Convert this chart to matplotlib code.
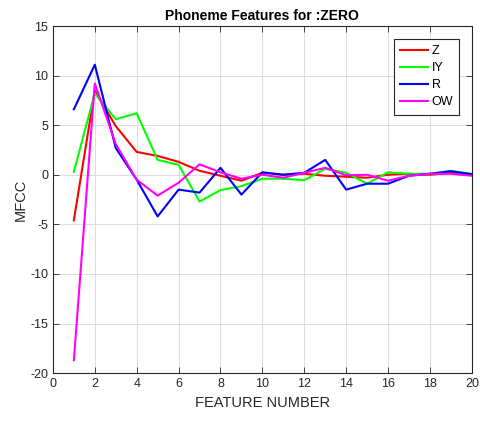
import numpy as np
import matplotlib
matplotlib.use("Agg")
import matplotlib.pyplot as plt

plt.rcParams["font.family"] = ["Liberation Sans", "DejaVu Sans"]
plt.rcParams["axes.unicode_minus"] = False

features = np.arange(1, 21)

z_coef = [-4.6, 8.5, 4.9, 2.3, 1.9, 1.3, 0.4, -0.1, -0.6, 0.2,
          0.0, 0.1, -0.1, -0.2, -0.3, 0.0, 0.1, 0.0, 0.2, 0.0]
iy_coef = [0.3, 8.2, 5.6, 6.2, 1.5, 1.0, -2.7, -1.55, -1.15, -0.4,
           -0.4, -0.55, 0.6, 0.2, -0.9, 0.25, 0.1, 0.1, 0.4, 0.1]
r_coef = [6.6, 11.1, 2.7, -0.5, -4.2, -1.5, -1.8, 0.7, -2.0, 0.25,
          0.0, 0.2, 1.5, -1.5, -0.9, -0.9, -0.1, 0.1, 0.35, 0.05]
ow_coef = [-18.7, 9.2, 3.1, -0.5, -2.1, -0.8, 1.05, 0.25, -0.4, 0.0,
           -0.3, 0.2, 0.7, -0.05, 0.0, -0.6, -0.1, 0.1, 0.1, -0.1]

series = [
    ("Z", z_coef, (1, 0, 0)),
    ("IY", iy_coef, (0, 1, 0)),
    ("R", r_coef, (0, 0, 1)),
    ("OW", ow_coef, (1, 0, 1)),
]

fig = plt.figure(figsize=(4.81, 4.23), dpi=100)
ax = fig.add_axes([0.110, 0.118, 0.871, 0.8205])

for name, vals, col in series:
    ax.plot(features, vals, color=col, linewidth=1.5, label=name)

ax.set_xlim(0, 20)
ax.set_ylim(-20, 15)
ax.set_xticks(np.arange(0, 21, 2))
ax.set_yticks(np.arange(-20, 16, 5))
ax.grid(True, color="#dcdcdc", linewidth=0.7)
ax.set_axisbelow(True)

ax.tick_params(direction="in", top=True, right=True, length=4,
               labelsize=9, colors="#262626", width=0.6)
for sp in ax.spines.values():
    sp.set_color("#262626")
    sp.set_linewidth(0.8)

ax.set_xlabel("FEATURE NUMBER", fontsize=10.5, color="#262626")
ax.set_ylabel("MFCC", fontsize=10.5, color="#262626", labelpad=2)
ax.set_title("Phoneme Features for :ZERO", fontsize=10, fontweight="bold",
             pad=4)

leg = ax.legend(loc="upper right", bbox_to_anchor=(0.970, 0.962),
                borderaxespad=0, fancybox=False, framealpha=1,
                edgecolor="#262626", fontsize=9, handlelength=2.2,
                labelspacing=0.4, borderpad=0.5, handletextpad=0.3)
leg.get_frame().set_linewidth(0.8)

fig.savefig("out.png", dpi=100)
